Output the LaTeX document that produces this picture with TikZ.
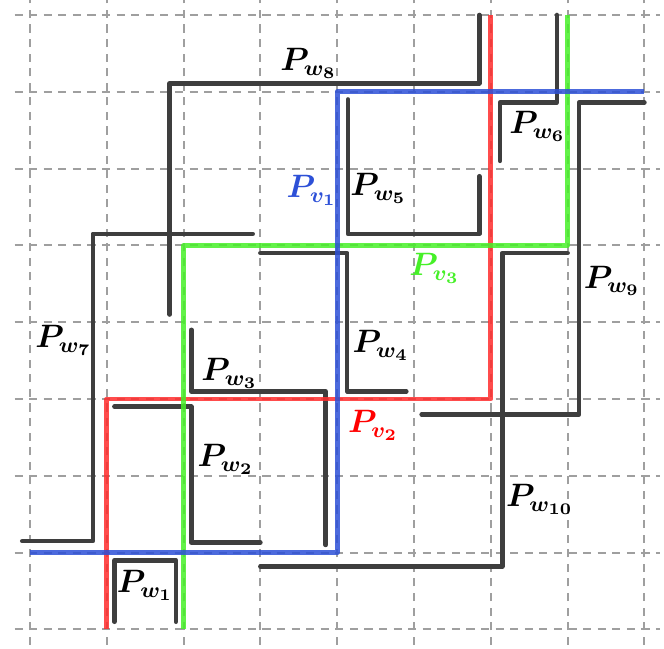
\documentclass[tikz,border=0pt]{standalone}
\usepackage{tikz}

\definecolor{vblue}{RGB}{45,80,215}
\definecolor{vred}{RGB}{255,45,45}
\definecolor{vgreen}{RGB}{70,240,40}
\definecolor{wgray}{RGB}{62,62,62}

\begin{document}
\begin{tikzpicture}[
  gridline/.style={gray!75, line width=0.75pt, dash pattern=on 3pt off 2.4pt},
  wpath/.style={wgray, line width=1.7pt, line cap=round, line join=round},
  vpath/.style={line width=1.8pt, opacity=0.85, line join=round},
  lab/.style={font=\large\boldmath, inner sep=1pt}
]
\useasboundingbox (-0.39,-0.247) rectangle (8.255,8.195);
\draw[gridline] (-0.2,-0.2) grid (8.2,8.2);

% paths of the w's
\draw[wpath] (1.1,0.1) -- (1.1,0.9) -- (1.9,0.9) -- (1.9,0.1);
\draw[wpath] (1.1,2.9) -- (2.1,2.9) -- (2.1,1.13) -- (3,1.13);
\draw[wpath] (2.1,3.9) -- (2.1,3.1) -- (3.85,3.1) -- (3.85,1.1);
\draw[wpath] (3,4.9) -- (4.13,4.9) -- (4.13,3.1) -- (4.9,3.1);
\draw[wpath] (4.14,6.9) -- (4.14,5.15) -- (5.85,5.15) -- (5.85,5.9);
\draw[wpath] (6.12,6.1) -- (6.12,6.86) -- (6.86,6.86) -- (6.86,8);
\draw[wpath] (-0.1,1.15) -- (0.82,1.15) -- (0.82,5.15) -- (2.9,5.15);
\draw[wpath] (1.82,4.1) -- (1.82,7.11) -- (5.85,7.11) -- (5.85,8);
\draw[wpath] (8,6.86) -- (7.15,6.86) -- (7.15,2.8) -- (5.1,2.8);
\draw[wpath] (7,4.9) -- (6.15,4.9) -- (6.15,0.82) -- (3,0.82);

% paths of the v's
\draw[vpath, vred] (1,0) -- (1,3) -- (6,3) -- (6,8);
\draw[vpath, vgreen] (2,0) -- (2,5) -- (7,5) -- (7,8);
\draw[vpath, vblue] (0,1) -- (4,1) -- (4,7) -- (8,7);

% labels
\node[lab] (lw1) at (1.5,0.57) {$P_{w_1}$};
\node[lab] (lw2) at (2.55,2.21) {$P_{w_2}$};
\node[lab] (lw3) at (2.6,3.33) {$P_{w_3}$};
\node[lab] (lw4) at (4.57,3.7) {$P_{w_4}$};
\node[lab] (lw5) at (4.54,5.74) {$P_{w_5}$};
\node[lab] (lw6) at (6.61,6.55) {$P_{w_6}$};
\node[lab] (lw7) at (0.44,3.76) {$P_{w_7}$};
\node[lab] (lw8) at (3.63,7.37) {$P_{w_8}$};
\node[lab] (lw9) at (7.58,4.54) {$P_{w_9}$};
\node[lab] (lw10) at (6.64,1.69) {$P_{w_{10}}$};
\node[lab, text=vblue] (lv1) at (3.67,5.72) {$P_{v_1}$};
\node[lab, text=red] (lv2) at (4.47,2.66) {$P_{v_2}$};
\node[lab, text=vgreen] (lv3) at (5.27,4.70) {$P_{v_3}$};
\end{tikzpicture}
\end{document}
